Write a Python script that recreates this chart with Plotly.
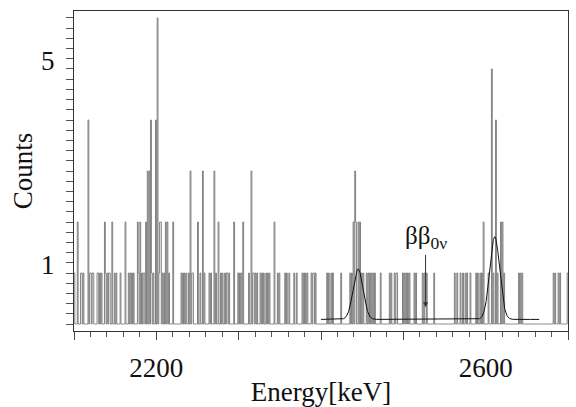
import numpy as np
import plotly.graph_objects as go

# ---- data (1 keV bins, non-empty bins only) ----
bin_energy = [
    2099, 2100, 2104, 2108, 2109, 2111, 2117, 2119, 2120, 2122, 2123,
    2128, 2129, 2131, 2133, 2137, 2138, 2140, 2142, 2143, 2146, 2149,
    2151, 2156, 2162, 2166, 2168, 2170, 2172, 2177, 2178, 2180, 2182,
    2184, 2185, 2187, 2189, 2191, 2193, 2194, 2196, 2199, 2201, 2203,
    2204, 2205, 2207, 2209, 2211, 2213, 2215, 2220, 2230, 2232, 2234,
    2236, 2239, 2241, 2243, 2244, 2250, 2253, 2256, 2258, 2264, 2266,
    2270, 2272, 2275, 2278, 2280, 2283, 2285, 2286, 2288, 2294, 2299,
    2301, 2303, 2305, 2312, 2315, 2317, 2318, 2320, 2322, 2326, 2328,
    2330, 2333, 2335, 2337, 2343, 2347, 2349, 2356, 2358, 2361, 2367,
    2370, 2377, 2379, 2381, 2383, 2388, 2390, 2391, 2393,
    2407, 2409, 2412, 2414, 2424, 2435, 2437, 2439, 2441, 2442, 2445,
    2447, 2449, 2451, 2455, 2457, 2459, 2461, 2463, 2465, 2472, 2483,
    2485, 2489, 2491, 2492, 2499, 2501, 2503, 2505, 2507, 2513, 2515,
    2523, 2525, 2528, 2537, 2562, 2565, 2569, 2572, 2575, 2577, 2581,
    2588, 2590, 2593, 2595, 2597, 2603, 2607, 2609, 2612, 2614, 2618,
    2620, 2622, 2640, 2642, 2644, 2682, 2684, 2688, 2690,
]
bin_count = [
    1, 1, 2, 1, 1, 1, 4, 1, 1, 1, 1,
    1, 1, 1, 1, 2, 1, 1, 1, 1, 2, 1,
    1, 1, 2, 1, 1, 1, 1, 2, 1, 2, 1,
    1, 1, 2, 3, 3, 4, 1, 1, 4, 6, 1,
    2, 2, 1, 1, 2, 2, 1, 2, 1, 1, 1,
    1, 1, 3, 1, 1, 2, 1, 3, 1, 1, 1,
    3, 1, 2, 1, 1, 1, 1, 1, 1, 2, 1,
    1, 1, 2, 1, 3, 1, 1, 1, 1, 1, 1,
    1, 1, 1, 1, 2, 1, 1, 1, 1, 1, 1,
    1, 1, 1, 1, 1, 1, 1, 1, 1,
    1, 1, 1, 1, 1, 1, 1, 2, 3, 2, 2,
    2, 1, 1, 1, 1, 1, 1, 1, 1, 1, 1,
    1, 1, 1, 1, 1, 1, 1, 1, 1, 1, 1,
    1, 1, 1, 1, 1, 1, 1, 1, 1, 1, 1,
    1, 1, 1, 1, 2, 1, 5, 1, 4, 1, 2,
    2, 1, 1, 1, 1, 1, 1, 1, 1,
]

# fit: flat background + two gaussian peaks
fit_range = [2400, 2665]
fit_background = 0.09
fit_centers = [2445, 2611]
fit_amplitudes = [0.99, 1.62]
fit_sigmas = [6.0, 6.0]

q_value = 2527  # beta-beta 0nu position
x_label_values = [2200, 2600]
x_label_texts = ["2200", "2600"]
x_long_ticks = [2100, 2300, 2400, 2500, 2700]
y_label_values = [1, 5]
y_label_texts = ["1", "5"]

E_MIN, E_MAX = 2100, 2700
Y_MIN, Y_MAX = -0.137, 6.137

# ---- build step histogram ----
edges = np.arange(E_MIN, E_MAX + 1)
counts = np.zeros(E_MAX - E_MIN)
for e, c in zip(bin_energy, bin_count):
    counts[e - E_MIN] = c
y_step = np.append(counts, counts[-1])

fit_x = np.arange(fit_range[0], fit_range[1] + 0.25, 0.25)
fit_y = np.full_like(fit_x, fit_background)
for c, a, s in zip(fit_centers, fit_amplitudes, fit_sigmas):
    fit_y += a * np.exp(-0.5 * ((fit_x - c) / s) ** 2)

FONT = "Liberation Serif"
TXT = "#111111"

fig = go.Figure()
fig.add_trace(go.Scatter(
    x=edges, y=y_step, mode="lines",
    line=dict(shape="hv", color="#808080", width=1),
    showlegend=False, hoverinfo="skip",
))
fig.add_trace(go.Scatter(
    x=fit_x, y=fit_y, mode="lines",
    line=dict(color="#111111", width=1),
    showlegend=False, hoverinfo="skip",
))
# carrier for the overlay axis holding the unlabeled 100 keV ticks
fig.add_trace(go.Scatter(
    x=[E_MIN, E_MAX], y=[None, None], xaxis="x2", mode="lines",
    showlegend=False, hoverinfo="skip",
))

annotations = []
for v, t in zip(y_label_values, y_label_texts):
    annotations.append(dict(
        x=0, xref="paper", y=v, yref="y", text=t, showarrow=False,
        xanchor="right", yanchor="middle", xshift=-17, yshift=8,
        font=dict(family=FONT, size=27, color=TXT),
    ))
annotations.append(dict(
    x=q_value, y=0.33, xref="x", yref="y", ax=q_value, ay=1.69,
    axref="x", ayref="y", text="ββ<sub>0ν</sub>", showarrow=True,
    arrowhead=2, arrowsize=1, arrowwidth=1, arrowcolor="#333",
    font=dict(family=FONT, size=25, color=TXT),
))

fig.update_layout(
    width=576, height=407,
    margin=dict(l=74, r=8, t=11, b=76, autoexpand=False),
    paper_bgcolor="white", plot_bgcolor="white",
    font=dict(family=FONT, color=TXT),
    annotations=annotations,
    xaxis=dict(
        range=[E_MIN, E_MAX], showgrid=False, zeroline=False, automargin=False,
        showline=True, linecolor="#333", linewidth=1, mirror=True,
        ticks="outside", ticklen=8, tickcolor="#444", tickwidth=1,
        tickvals=x_label_values, ticktext=x_label_texts,
        tickfont=dict(family=FONT, size=27, color=TXT),
        ticklabelstandoff=5,
        minor=dict(dtick=20, tick0=2100, ticks="outside", ticklen=5,
                   tickcolor="#555", showgrid=False),
        title=dict(text="Energy[keV]", standoff=2,
                   font=dict(family=FONT, size=27, color=TXT)),
    ),
    xaxis2=dict(
        range=[E_MIN, E_MAX], overlaying="x", side="bottom", anchor="y",
        showgrid=False, zeroline=False, showline=False, automargin=False,
        ticks="outside", ticklen=8, tickcolor="#444", tickwidth=1,
        tickvals=x_long_ticks, showticklabels=False,
    ),
    yaxis=dict(
        range=[Y_MIN, Y_MAX], showgrid=False, zeroline=False, automargin=False,
        showline=True, linecolor="#333", linewidth=1, mirror=True,
        ticks="outside", ticklen=7, tickcolor="#555", tickwidth=1,
        tickvals=[round(0.2 * i, 1) for i in range(31)],
        showticklabels=False,
        title=dict(text="Counts", standoff=25,
                   font=dict(family=FONT, size=27, color=TXT)),
    ),
)

fig.write_html("out.html",
               config={"displayModeBar": False},
               post_script="document.body.style.margin='0px';")
